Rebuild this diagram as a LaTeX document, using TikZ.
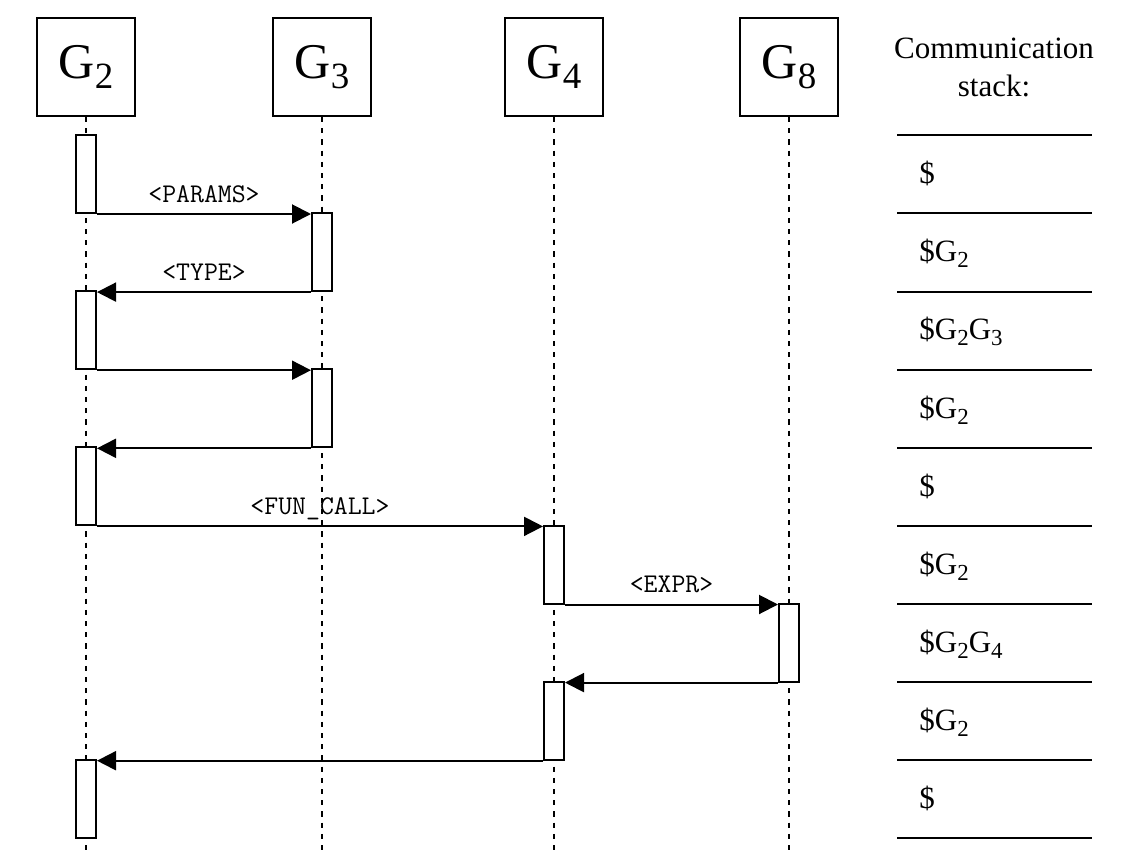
\documentclass[tikz,border=0pt]{standalone}
\usepackage{fontspec}
\setmainfont{Liberation Serif}
\usetikzlibrary{arrows.meta}
\newcommand{\idx}[1]{\raisebox{-0.45ex}{\scalebox{0.74}{#1}}}

\begin{document}
\begin{tikzpicture}[x=0.5pt,y=-0.5pt,
    proc/.style={draw,line width=1pt,minimum size=49pt,inner sep=0pt,font=\fontsize{25}{30}\selectfont},
    act/.style={draw,fill=white,line width=1pt,minimum width=10pt,minimum height=39pt,inner sep=0pt},
    life/.style={line width=1pt,dash pattern=on 2.6pt off 3pt},
    msg/.style={line width=1pt,-{Triangle[length=9.5pt,width=9.5pt]}},
    lbl/.style={anchor=base,yshift=6pt,inner sep=0pt,font=\fontsize{13.5}{16}\ttfamily},
    entry/.style={anchor=base west,inner sep=0pt,font=\fontsize{15.5}{19}\selectfont}]
  \useasboundingbox (0,0) rectangle (1124,851);
  % processes
  \node[proc] (g2) at (86,67) {G\idx{2}};
  \node[proc] (g3) at (322,67) {G\idx{3}};
  \node[proc] (g4) at (554,67) {G\idx{4}};
  \node[proc] (g8) at (789,67) {G\idx{8}};
  \coordinate (bottom) at (0,851);
  \foreach \g in {g2,g3,g4,g8}
    \draw[life] (\g.south) -- (\g.south |- bottom);
  % activations
  \node[act] (a1) at (86,174) {};
  \node[act] (a2) at (322,252.1) {};
  \node[act] (a3) at (86,330.2) {};
  \node[act] (a4) at (322,408.3) {};
  \node[act] (a5) at (86,486.4) {};
  \node[act] (a6) at (554,564.5) {};
  \node[act] (a7) at (789,642.6) {};
  \node[act] (a8) at (554,720.7) {};
  \node[act] (a9) at (86,798.8) {};
  % messages
  \draw[msg] (a1.south east) -- node[lbl] {<PARAMS>} (a1.south east -| a2.west);
  \draw[msg] (a2.south west) -- node[lbl] {<TYPE>} (a2.south west -| a3.east);
  \draw[msg] (a3.south east) -- (a3.south east -| a4.west);
  \draw[msg] (a4.south west) -- (a4.south west -| a5.east);
  \draw[msg] (a5.south east) -- node[lbl] {<FUN\_CALL>} (a5.south east -| a6.west);
  \draw[msg] (a6.south east) -- node[lbl] {<EXPR>} (a6.south east -| a7.west);
  \draw[msg] (a7.south west) -- (a7.south west -| a8.east);
  \draw[msg] (a8.south west) -- (a8.south west -| a9.east);
  % communication stack
  \node[align=center,font=\fontsize{15.5}{19}\selectfont] (title) at (994,67) {Communication\\stack:};
  \foreach \y in {135,213,292,370,448,526,604,682,760,838}
    \draw[line width=1pt] (897,\y) -- (1092,\y);
  \node[entry] (s1) at (919,183) {\$};
  \node[entry] (s2) at (919,261) {\$G\idx{2}};
  \node[entry] (s3) at (919,339.5) {\$G\idx{2}G\idx{3}};
  \node[entry] (s4) at (919,418) {\$G\idx{2}};
  \node[entry] (s5) at (919,496) {\$};
  \node[entry] (s6) at (919,574) {\$G\idx{2}};
  \node[entry] (s7) at (919,652) {\$G\idx{2}G\idx{4}};
  \node[entry] (s8) at (919,730) {\$G\idx{2}};
  \node[entry] (s9) at (919,808) {\$};
\end{tikzpicture}
\end{document}
